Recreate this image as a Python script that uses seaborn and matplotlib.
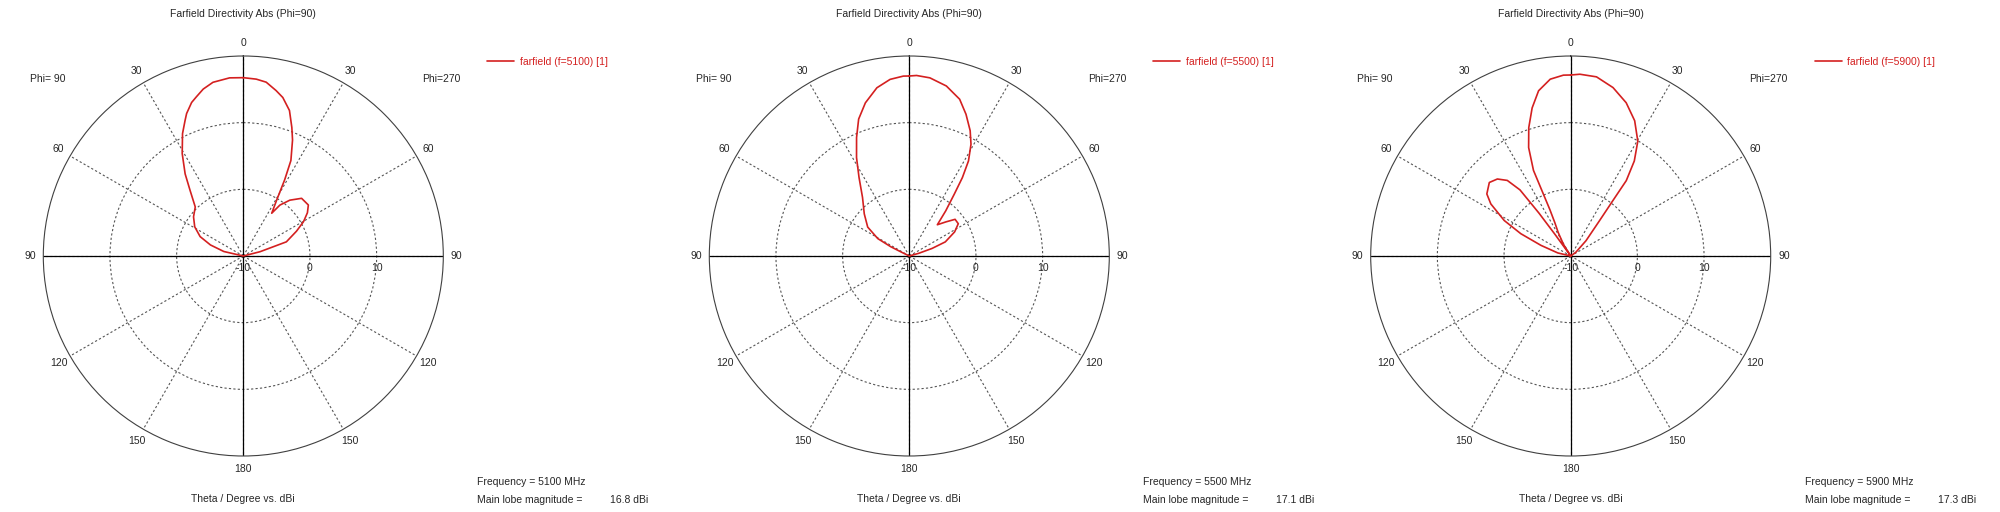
"""
Farfield directivity cuts (Phi=90) at three frequencies, CST-style polar plots.
"""

import numpy as np
import matplotlib
matplotlib.use("Agg")
import matplotlib.pyplot as plt
import seaborn as sns

# ─────────────────────────────────────────────
# DATA  (plot angle in degrees, clockwise from top;
#        right half = Phi=270 side, left half = Phi=90 side)
# ─────────────────────────────────────────────
FREQS = [5100, 5500, 5900]
MAIN_LOBE = [16.8, 17.1, 17.3]

ANG_5100 = [0, 4.2, 7.5, 11.2, 14, 17.6, 20.7, 23, 26.5, 28.5, 30.8, 33.6, 35.7, 39.8,
            45.3, 51.9, 56, 60.3, 65, 71.8, 75.6, 80,
            280, 283, 288.6, 294.2, 301, 308.2, 315.6, 321, 324.7, 329.2,
            333.6, 336.7, 338.3, 341.4, 343.6, 346.5, 350.1, 355.6, 360]
DB_5100 = [16.75, 16.6, 16.3, 15.3, 14.5, 12.9, 10.6, 8.9, 6.0, 3.0, -0.2, -2.3, -0.6, 0.9,
           2.3, 2.4, 1.6, 0.4, -1.2, -3.2, -7.4, -10,
           -10, -7.0, -4.8, -2.9, -1.5, -0.5, 0.3, 2.7, 5.1, 7.9,
           10.5, 12.1, 13.0, 14.3, 14.9, 15.75, 16.45, 16.8, 16.75]

ANG_5500 = [0, 2.3, 6.6, 12.3, 17.8, 21.8, 25.9, 28.9, 31.9, 34.1, 36, 38.9, 41.9,
            47, 51.3, 56.6, 62, 68.6, 71.6, 74, 78,
            290, 296, 296.6, 298.9, 304.8, 313.1, 321.4, 327.4, 331.8, 336,
            339.7, 344, 349.1, 353.8, 358.1, 360]
DB_5500 = [17.0, 17.1, 16.9, 16.1, 14.7, 12.9, 10.9, 9.15, 6.8, 4.2, 1.5, -1.3, -3.7,
           -2.5, -1.2, -1.2, -2.3, -4.2, -6.4, -8.5, -10,
           -10, -8.8, -6.9, -4.6, -2.4, -0.75, 1.25, 4.0, 6.75, 9.45,
           11.9, 13.9, 15.7, 16.65, 17.0, 17.0]

ANG_5900 = [0, 2.9, 8.2, 14.1, 19.9, 25.3, 30.3, 33.8, 36.4, 37.3, 39.2, 45, 54, 60,
            280, 283.4, 289.7, 294.1, 298.1, 303.1, 306.5, 312.1, 316.4, 320,
            322.5, 323.5, 324, 325.5, 328, 332, 334.5, 335.8, 336.5, 338.8,
            341.9, 345.4, 349, 353.4, 357.7, 360]
DB_5900 = [17.15, 17.3, 17.15, 16.05, 14.45, 12.45, 9.95, 7.15, 4.05, 0.4, -3.15, -6.75, -9.05, -10,
           -10, -8.0, -5.25, -1.8, 1.3, 4.3, 5.65, 6.45, 5.95, 4.8,
           2.5, -2.0, -6.0, -10, -8.0, -6.0, -4.5, -2.4, 4.0, 7.45,
           10.25, 12.95, 15.25, 16.7, 17.15, 17.15]

CURVES = [(ANG_5100, DB_5100), (ANG_5500, DB_5500), (ANG_5900, DB_5900)]

THETA_TICKS = list(range(0, 360, 30))
THETA_LABELS = ["0", "30", "60", "90", "120", "150", "180",
                "150", "120", "90", "60", "30"]
R_MIN, R_MAX = -10, 20
RINGS = [-10, 0, 10]

# ─────────────────────────────────────────────
# STYLE
# ─────────────────────────────────────────────
RED = "#d42020"
FS = 7.5
W, H = 2000, 512
CENTERS_X = [243.3, 909.3, 1570.7]   # px
CENTER_Y = 256
RADIUS = 200

sns.set_style("white")
plt.rcParams["font.family"] = ["Liberation Sans", "DejaVu Sans"]
plt.rcParams["font.size"] = FS

fig = plt.figure(figsize=(W / 100, H / 100), dpi=100)
fig.patch.set_facecolor("white")

for i, (cx, (ang, db)) in enumerate(zip(CENTERS_X, CURVES)):
    rect = [(cx - RADIUS) / W, (H - CENTER_Y - RADIUS) / H, 2 * RADIUS / W, 2 * RADIUS / H]
    ax = fig.add_axes(rect, projection="polar")
    ax.set_theta_zero_location("N")
    ax.set_theta_direction(-1)

    sns.lineplot(x=np.deg2rad(ang), y=db, sort=False, estimator=None,
                 color=RED, lw=1.2, ax=ax, label=f"farfield (f={FREQS[i]}) [1]")
    ax.lines[-1].set_solid_joinstyle("round")
    ax.set_xlabel("")
    ax.set_ylabel("")

    ax.set_ylim(R_MIN, R_MAX)
    ax.set_yticks(RINGS[1:])
    ax.set_yticklabels([])
    ax.set_xticks(np.deg2rad(THETA_TICKS))
    ax.set_xticklabels([])
    ax.grid(True, color="#555555", lw=0.8, linestyle=(0, (2, 2)))
    ax.spines["polar"].set_color("#404040")
    ax.spines["polar"].set_linewidth(0.8)

    # solid main axes
    for a in (0, 90, 180, 270):
        ax.axvline(np.deg2rad(a), color="black", lw=0.9, zorder=1)

    # theta labels on a circle just outside the plot edge
    for t, lbl in zip(THETA_TICKS, THETA_LABELS):
        ax.text(np.deg2rad(t), R_MAX + 2, lbl, ha="center", va="center",
                fontsize=FS, clip_on=False)

    # radial labels just under the 90 axis
    for r in RINGS:
        ax.annotate(str(r), xy=(np.deg2rad(90), r), xytext=(0, -5),
                    textcoords="offset points", ha="center", va="top", fontsize=FS)

    ax.text(0.5, 1.0 + (CENTER_Y - RADIUS - 14) / (2 * RADIUS),
            "Farfield Directivity Abs (Phi=90)", transform=ax.transAxes,
            ha="center", va="center", fontsize=FS)
    ax.text(0.01, 0.9425, "Phi= 90", transform=ax.transAxes, ha="center", va="center", fontsize=FS)
    ax.text(0.995, 0.9425, "Phi=270", transform=ax.transAxes, ha="center", va="center", fontsize=FS)
    ax.text(0.5, -0.1075, "Theta / Degree vs. dBi", transform=ax.transAxes,
            ha="center", va="center", fontsize=FS)

    ax.legend(loc="center left", bbox_to_anchor=(1.11, 0.985), frameon=False,
              borderaxespad=0, borderpad=0, handlelength=2.6, handletextpad=0.5,
              labelcolor=RED, fontsize=FS)

    ax.text(1.085, -0.065, f"Frequency = {FREQS[i]} MHz", transform=ax.transAxes,
            ha="left", va="center", fontsize=FS)
    ax.text(1.085, -0.11, "Main lobe magnitude =", transform=ax.transAxes,
            ha="left", va="center", fontsize=FS)
    ax.text(1.4175, -0.11, f"{MAIN_LOBE[i]} dBi", transform=ax.transAxes,
            ha="left", va="center", fontsize=FS)

fig.savefig("out.png", dpi=100)
plt.close(fig)
